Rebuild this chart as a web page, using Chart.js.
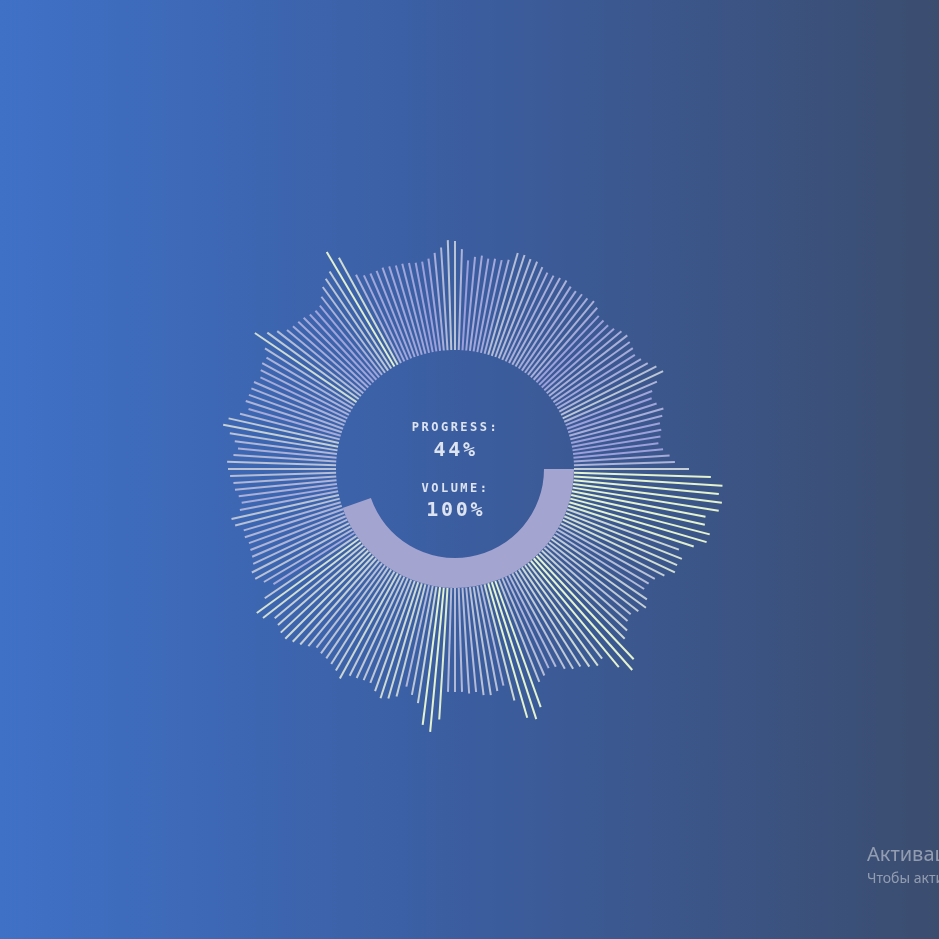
<!DOCTYPE html>
<html>
<head>
<meta charset="utf-8">
<script src="https://cdn.jsdelivr.net/npm/chart.js@4.4.1/dist/chart.umd.min.js"></script>
<style>
html,body{margin:0;padding:0;width:939px;height:939px;overflow:hidden}
body{position:relative;background:linear-gradient(to right,#3f71c7 0%,#3b5d9f 50%,#3b4d6f 100%);font-family:"DejaVu Sans Mono",monospace}
#bars{position:absolute;left:0;top:0}
#ring{position:absolute;left:336px;top:350px}
.lbl{position:absolute;left:353px;width:200px;text-align:center;color:#dde3ef;font-weight:bold;white-space:nowrap}
.small{font-size:12px;line-height:14px;letter-spacing:2.5px;padding-left:2.5px}
.big{font-size:20px;line-height:24px;letter-spacing:2.7px;padding-left:2.7px}
.wm{position:absolute;left:867px;white-space:nowrap;font-family:"Noto Sans","Open Sans",sans-serif;color:rgba(200,205,215,0.62)}
</style>
</head>
<body>
<canvas id="bars" width="939" height="939"></canvas>
<canvas id="ring" width="238" height="238"></canvas>
<div class="lbl small" id="progLbl" style="top:420px">PROGRESS:</div>
<div class="lbl big" id="progVal" style="top:437px"></div>
<div class="lbl small" id="volLbl" style="top:481px">VOLUME:</div>
<div class="lbl big" id="volVal" style="top:497px"></div>
<div class="wm" style="top:841px;font-size:20px;line-height:26px">Активация Windows</div>
<div class="wm" style="top:868px;font-size:14px;line-height:20px">Чтобы активировать Windows, перейдите в раздел "Параметры".</div>
<script>
// ---- data ----
// bar index (angle step = 360 / barCount, clockwise from 3 o'clock)
const barCount = 200;
// bar lengths (px beyond the base circle)
const barLengths = [
115,137,149,146,150,148,136,137,144,143,
132,119,125,123,124,116,109,106,105,113,
117,113,109,111,117,121,142,149,138,121,
124,120,115,113,109,103,101,106,110,134,
144,140,120,103,107,110,109,105,106,104,
104,104,132,145,139,118,111,104,116,120,
122,117,111,111,112,113,120,115,112,110,
109,107,111,115,118,121,120,117,115,124,
126,111,96,103,109,109,104,102,101,100,
102,101,108,110,100,97,99,102,103,106,
108,109,103,99,103,109,117,113,103,96,
101,100,100,100,96,99,101,100,106,123,
113,106,99,97,96,95,93,92,93,99,
106,111,115,133,122,99,95,94,94,95,
94,93,93,92,91,91,93,98,103,110,
109,101,90,94,96,94,95,95,97,106,
106,104,104,101,98,98,99,100,97,96,
97,97,99,96,91,91,91,93,97,99,
97,96,94,97,101,107,111,101,93,90,
93,98,95,91,91,89,86,90,96,101
];
const progress = 44.7;   // percent of the ring that is filled
const volume = 100;      // percent

// ---- styling ----
const baseRadius = 119;
const lowColor = [155, 159, 219];
const highColor = [228, 243, 206];

function barColor(len) {
  let t = (len - 90) / 45;
  t = Math.max(0, Math.min(1, t));
  const c = lowColor.map((v, k) => Math.round(v + (highColor[k] - v) * t));
  return `rgb(${c[0]},${c[1]},${c[2]})`;
}

const points = [];
const colors = [];
barLengths.forEach((len, i) => {
  const a = i * 2 * Math.PI / barCount;
  const c = Math.cos(a), s = Math.sin(a);
  const r1 = baseRadius + len;
  points.push({x: baseRadius * c, y: -baseRadius * s});
  points.push({x: r1 * c, y: -r1 * s});
  points.push({x: r1 * c, y: null});
  colors.push(barColor(len));
});

new Chart(document.getElementById('bars'), {
  type: 'scatter',
  data: {
    datasets: [{
      data: points,
      showLine: true,
      spanGaps: false,
      borderWidth: 2,
      borderCapStyle: 'butt',
      pointRadius: 0,
      pointHoverRadius: 0,
      borderColor: colors[0],
      segment: {
        borderColor: ctx => colors[Math.floor(ctx.p0DataIndex / 3)]
      },
      clip: false
    }]
  },
  options: {
    responsive: false,
    animation: false,
    events: [],
    devicePixelRatio: 1,
    layout: {padding: 0},
    plugins: {legend: {display: false}, tooltip: {enabled: false}},
    scales: {
      x: {type: 'linear', display: false, min: -455, max: 484},
      y: {type: 'linear', display: false, min: -470, max: 469}
    }
  }
});

new Chart(document.getElementById('ring'), {
  type: 'doughnut',
  data: {
    labels: ['progress', 'remaining'],
    datasets: [{
      data: [progress, 100 - progress],
      backgroundColor: ['#a4a4d0', 'rgba(0,0,0,0)'],
      borderWidth: 0,
      hoverOffset: 0
    }]
  },
  options: {
    responsive: false,
    animation: false,
    events: [],
    devicePixelRatio: 1,
    rotation: 90,
    cutout: 89,
    layout: {padding: 0},
    plugins: {legend: {display: false}, tooltip: {enabled: false}}
  }
});

document.getElementById('progVal').textContent = Math.floor(progress) + '%';
document.getElementById('volVal').textContent = volume + '%';
</script>
</body>
</html>
